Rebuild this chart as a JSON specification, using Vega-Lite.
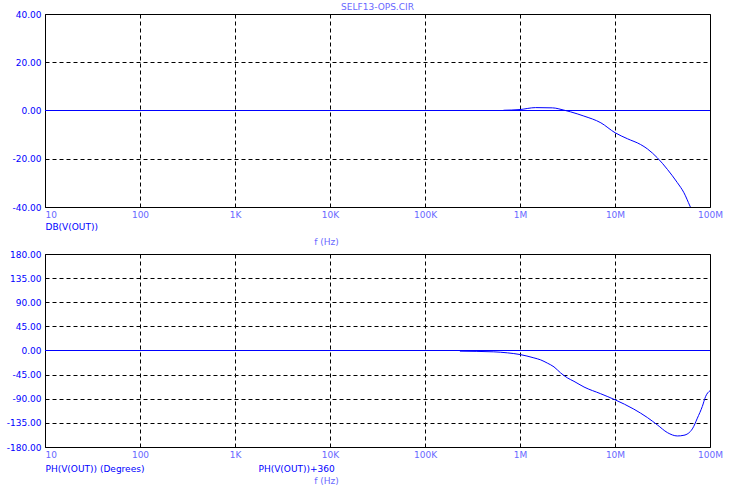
{
  "$schema": "https://vega.github.io/schema/vega-lite/v6.json",
  "padding": {"left": 5, "top": 2, "right": 10, "bottom": 4},
  "background": "white",
  "bounds": "flush",
  "spacing": 47,
  "datasets": {
    "mag": [
      {"f": 670000, "db": 0.1},
      {"f": 1000000, "db": 0.4},
      {"f": 1460000, "db": 1.2},
      {"f": 2190000, "db": 1.1},
      {"f": 2900000, "db": 0.15},
      {"f": 3400000, "db": -0.55},
      {"f": 4700000, "db": -2.3},
      {"f": 7100000, "db": -5.1},
      {"f": 10000000, "db": -9.2},
      {"f": 13500000, "db": -11.7},
      {"f": 18600000, "db": -14.1},
      {"f": 21900000, "db": -15.9},
      {"f": 27900000, "db": -19.6},
      {"f": 35600000, "db": -24.4},
      {"f": 45300000, "db": -29.9},
      {"f": 53200000, "db": -34.1},
      {"f": 61500000, "db": -39.6},
      {"f": 63000000, "db": -40.5}
    ],
    "phase": [
      {"f": 233000, "ph": -1.25},
      {"f": 530000, "ph": -2.5},
      {"f": 740000, "ph": -4.4},
      {"f": 1000000, "ph": -7.5},
      {"f": 1400000, "ph": -13.75},
      {"f": 1650000, "ph": -17.5},
      {"f": 1940000, "ph": -23.5},
      {"f": 2280000, "ph": -30.6},
      {"f": 2680000, "ph": -41.9},
      {"f": 3150000, "ph": -51},
      {"f": 3700000, "ph": -57.5},
      {"f": 4720000, "ph": -68.1},
      {"f": 7060000, "ph": -80.6},
      {"f": 10000000, "ph": -91.9},
      {"f": 15800000, "ph": -109.4},
      {"f": 21900000, "ph": -125},
      {"f": 27900000, "ph": -138.75},
      {"f": 35600000, "ph": -153.1},
      {"f": 45300000, "ph": -159.4},
      {"f": 53200000, "ph": -158.1},
      {"f": 65200000, "ph": -146.25},
      {"f": 73600000, "ph": -126.25},
      {"f": 83000000, "ph": -104.4},
      {"f": 90000000, "ph": -85.6},
      {"f": 100000000, "ph": -75}
    ]
  },
  "config": {
    "font": "DejaVu Sans",
    "view": {"stroke": "#000000", "strokeWidth": 1},
    "axis": {
      "labelFont": "DejaVu Sans", "labelFontSize": 9,
      "titleFont": "DejaVu Sans", "titleFontSize": 9, "titleFontWeight": "normal",
      "ticks": false, "domain": false,
      "gridColor": "#000000", "gridDash": [4, 3], "gridWidth": 1,
      "labelOverlap": false, "labelBound": false, "labelFlush": false
    }
  },
  "vconcat": [
    {
      "width": 665, "height": 193,
      "title": {"text": "SELF13-OPS.CIR", "fontSize": 9, "font": "DejaVu Sans", "fontWeight": "normal", "color": "#6868ff", "offset": -2, "anchor": "middle"},
      "layer": [
        {
          "data": {"values": [{}]},
          "mark": {"type": "rule", "color": "#0000ff", "stroke": "#0000ff", "strokeWidth": 1},
          "encoding": {
            "x": {
              "datum": 10, "type": "quantitative",
              "axis": {
                "orient": "bottom",
                "values": [10, 100, 1000, 10000, 100000, 1000000, 10000000, 100000000],
                "labelExpr": "datum.value >= 1e6 ? round(datum.value/1e6)+'M' : datum.value >= 1e3 ? round(datum.value/1e3)+'K' : ''+round(datum.value)",
                "labelColor": "#6868ff", "labelPadding": 3.5,
                "labelAlign": {"condition": {"test": "datum.value <= 10", "value": "left"}, "value": "center"},
                "grid": true,
                "title": "f (Hz)", "titleColor": "#6868ff", "titleX": 281, "titleY": 34,
                "titleAlign": "center", "titleBaseline": "middle", "titleAngle": 0
              }
            },
            "x2": {"datum": 100000000},
            "y": {
              "datum": 0, "type": "quantitative",
              "axis": {
                "values": [-40, -20, 0, 20, 40],
                "labelExpr": "(datum.value < 0 ? '-' : '') + format(abs(datum.value), '.2f')",
                "labelColor": "#0000ff", "labelPadding": 4,
                "grid": true,
                "gridOpacity": {"condition": {"test": "datum.value === 0", "value": 0}, "value": 1},
                "title": "DB(V(OUT))", "titleColor": "#0000ff", "titleX": 0, "titleY": 212,
                "titleAlign": "left", "titleBaseline": "middle", "titleAngle": 0
              }
            }
          }
        },
        {
          "data": {"name": "mag"},
          "mark": {"type": "line", "color": "#0000ff", "strokeWidth": 1, "interpolate": "monotone", "clip": true},
          "encoding": {
            "x": {
              "field": "f", "type": "quantitative",
              "scale": {"type": "log", "domain": [10, 100000000], "nice": false},
              "axis": {
                "orient": "bottom",
                "values": [10, 100, 1000, 10000, 100000, 1000000, 10000000, 100000000],
                "labelExpr": "datum.value >= 1e6 ? round(datum.value/1e6)+'M' : datum.value >= 1e3 ? round(datum.value/1e3)+'K' : ''+round(datum.value)",
                "labelColor": "#6868ff", "labelPadding": 3.5,
                "labelAlign": {"condition": {"test": "datum.value <= 10", "value": "left"}, "value": "center"},
                "grid": true,
                "title": "f (Hz)", "titleColor": "#6868ff", "titleX": 281, "titleY": 34,
                "titleAlign": "center", "titleBaseline": "middle", "titleAngle": 0
              }
            },
            "y": {
              "field": "db", "type": "quantitative",
              "scale": {"domain": [-40, 40], "nice": false},
              "axis": {
                "values": [-40, -20, 0, 20, 40],
                "labelExpr": "(datum.value < 0 ? '-' : '') + format(abs(datum.value), '.2f')",
                "labelColor": "#0000ff", "labelPadding": 4,
                "grid": true,
                "gridOpacity": {"condition": {"test": "datum.value === 0", "value": 0}, "value": 1},
                "title": "DB(V(OUT))", "titleColor": "#0000ff", "titleX": 0, "titleY": 212,
                "titleAlign": "left", "titleBaseline": "middle", "titleAngle": 0
              }
            }
          }
        }
      ]
    },
    {
      "width": 665, "height": 193,
      "resolve": {"axis": {"x": "independent"}},
      "layer": [
        {
          "data": {"values": [{}]},
          "mark": {"type": "rule", "color": "#0000ff", "stroke": "#0000ff", "strokeWidth": 1},
          "encoding": {
            "x": {
              "datum": 10, "type": "quantitative",
              "axis": {
                "orient": "bottom",
                "labels": false, "grid": false, "ticks": false, "domain": false,
                "title": "PH(V(OUT))+360", "titleColor": "#0000ff", "titleX": 213, "titleY": 21,
                "titleAlign": "left", "titleBaseline": "middle", "titleAngle": 0
              }
            },
            "x2": {"datum": 100000000},
            "y": {
              "datum": 0, "type": "quantitative",
              "axis": {
                "values": [-180, -135, -90, -45, 0, 45, 90, 135, 180],
                "labelExpr": "(datum.value < 0 ? '-' : '') + format(abs(datum.value), '.2f')",
                "labelColor": "#0000ff", "labelPadding": 4,
                "grid": true,
                "gridOpacity": {"condition": {"test": "datum.value === 0", "value": 0}, "value": 1},
                "title": "PH(V(OUT)) (Degrees)", "titleColor": "#0000ff", "titleX": 0, "titleY": 214,
                "titleAlign": "left", "titleBaseline": "middle", "titleAngle": 0
              }
            }
          }
        },
        {
          "data": {"name": "phase"},
          "mark": {"type": "line", "color": "#0000ff", "strokeWidth": 1, "interpolate": "monotone", "clip": true},
          "encoding": {
            "x": {
              "field": "f", "type": "quantitative",
              "scale": {"type": "log", "domain": [10, 100000000], "nice": false},
              "axis": {
                "orient": "bottom",
                "values": [10, 100, 1000, 10000, 100000, 1000000, 10000000, 100000000],
                "labelExpr": "datum.value >= 1e6 ? round(datum.value/1e6)+'M' : datum.value >= 1e3 ? round(datum.value/1e3)+'K' : ''+round(datum.value)",
                "labelColor": "#6868ff", "labelPadding": 3.5,
                "labelAlign": {"condition": {"test": "datum.value <= 10", "value": "left"}, "value": "center"},
                "grid": true,
                "title": "f (Hz)", "titleColor": "#6868ff", "titleX": 281, "titleY": 33.5,
                "titleAlign": "center", "titleBaseline": "middle", "titleAngle": 0
              }
            },
            "y": {
              "field": "ph", "type": "quantitative",
              "scale": {"domain": [-180, 180], "nice": false},
              "axis": {
                "values": [-180, -135, -90, -45, 0, 45, 90, 135, 180],
                "labelExpr": "(datum.value < 0 ? '-' : '') + format(abs(datum.value), '.2f')",
                "labelColor": "#0000ff", "labelPadding": 4,
                "grid": true,
                "gridOpacity": {"condition": {"test": "datum.value === 0", "value": 0}, "value": 1},
                "title": "PH(V(OUT)) (Degrees)", "titleColor": "#0000ff", "titleX": 0, "titleY": 214,
                "titleAlign": "left", "titleBaseline": "middle", "titleAngle": 0
              }
            }
          }
        }
      ]
    }
  ]
}
